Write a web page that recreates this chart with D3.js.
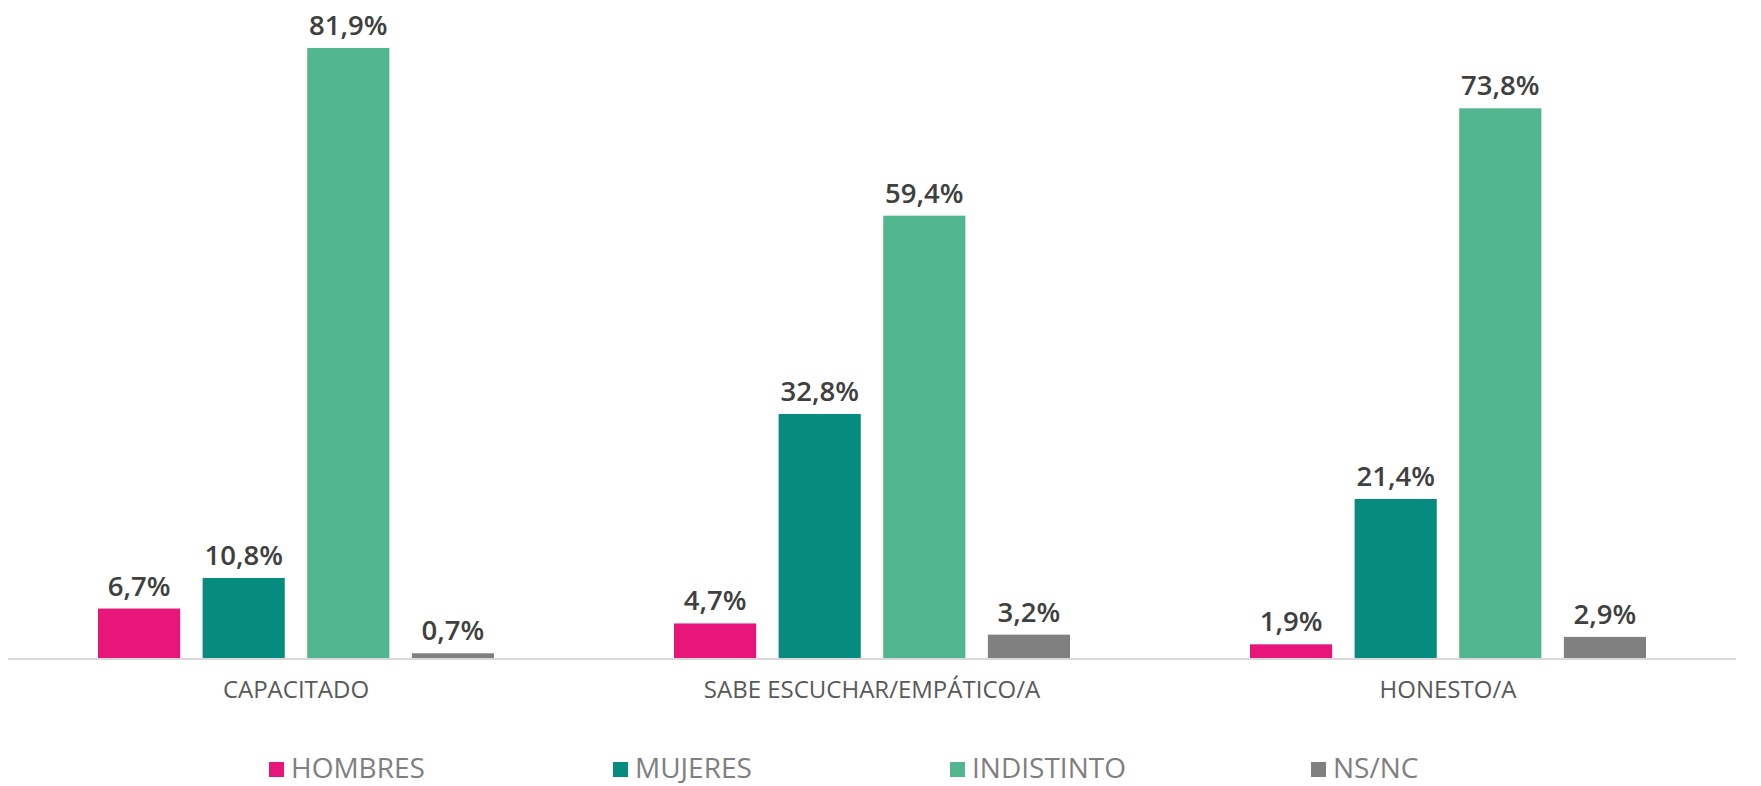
<!DOCTYPE html>
<html>
<head>
<meta charset="utf-8">
<script src="https://cdn.jsdelivr.net/npm/d3@7"></script>
<style>
  html, body { margin: 0; padding: 0; background: #fff; }
  svg { display: block; }
</style>
</head>
<body>
<div id="chart"></div>
<script>
// data
const categories = ['CAPACITADO', 'SABE ESCUCHAR/EMPÁTICO/A', 'HONESTO/A'];
const seriesNames = ['HOMBRES', 'MUJERES', 'INDISTINTO', 'NS/NC'];
const hombres = [6.7, 4.7, 1.9];
const mujeres = [10.8, 32.8, 21.4];
const indistinto = [81.9, 59.4, 73.8];
const nsnc = [0.7, 3.2, 2.9];

const seriesValues = [hombres, mujeres, indistinto, nsnc];
const colors = ['#e8157a', '#078b7e', '#52b690', '#808080'];

const width = 1761;
const height = 786;
const baseY = 658.5;

const svg = d3.select('#chart')
  .append('svg')
  .attr('width', width)
  .attr('height', height)
  .attr('font-family', '"Open Sans", sans-serif');

const x0 = d3.scaleBand()
  .domain(categories)
  .range([8, 1736])
  .padding(0);

const x1 = d3.scaleBand()
  .domain(seriesNames)
  .range([90, 486])
  .paddingInner(0.215)
  .paddingOuter(0);

const y = d3.scaleLinear()
  .domain([0, 90])
  .range([baseY, baseY - 90 * 7.455]);

const fmt = (v) => `${d3.format('.1f')(v).replace('.', ',')}%`;

const rows = categories.map((c, i) => ({
  cat: c,
  vals: seriesNames.map((s, j) => ({ s, j, v: seriesValues[j][i] })),
}));

const group = svg.append('g')
  .selectAll('g')
  .data(rows)
  .join('g')
  .attr('transform', (d) => `translate(${x0(d.cat)},0)`);

group.selectAll('rect')
  .data((d) => d.vals)
  .join('rect')
  .attr('x', (d) => x1(d.s))
  .attr('y', (d) => y(d.v))
  .attr('width', x1.bandwidth())
  .attr('height', (d) => y(0) - y(d.v))
  .attr('fill', (d) => colors[d.j]);

group.selectAll('text.val')
  .data((d) => d.vals)
  .join('text')
  .attr('class', 'val')
  .attr('x', (d) => x1(d.s) + x1.bandwidth() / 2)
  .attr('y', (d) => y(d.v) - 13)
  .attr('text-anchor', 'middle')
  .attr('font-size', 27.5)
  .attr('font-weight', 600)
  .attr('fill', '#404040')
  .text((d) => fmt(d.v));

// baseline
svg.append('line')
  .attr('x1', 8)
  .attr('x2', 1736)
  .attr('y1', baseY + 0.5)
  .attr('y2', baseY + 0.5)
  .attr('stroke', '#d9d9d9')
  .attr('stroke-width', 2);

// category labels
svg.append('g')
  .selectAll('text')
  .data(categories)
  .join('text')
  .attr('x', (d) => x0(d) + x0.bandwidth() / 2)
  .attr('y', 698)
  .attr('text-anchor', 'middle')
  .attr('font-size', 24)
  .attr('fill', '#595959')
  .text((d) => d);

// legend
const legendX = [269, 613, 950, 1311];
const legend = svg.append('g')
  .selectAll('g')
  .data(seriesNames)
  .join('g')
  .attr('transform', (d, i) => `translate(${legendX[i]},0)`);

legend.append('rect')
  .attr('x', 0)
  .attr('y', 762)
  .attr('width', 15)
  .attr('height', 15)
  .attr('fill', (d, i) => colors[i]);

legend.append('text')
  .attr('x', 22)
  .attr('y', 778)
  .attr('font-size', 28)
  .attr('fill', '#7f7f7f')
  .text((d) => d);
</script>
</body>
</html>
